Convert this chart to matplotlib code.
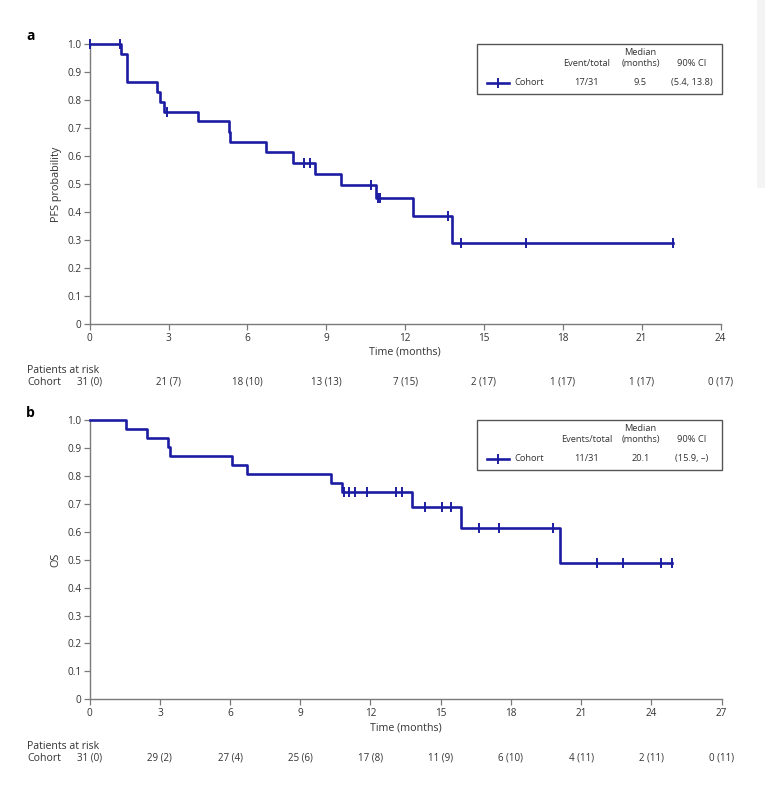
import numpy as np
import matplotlib
matplotlib.use("Agg")
import matplotlib.pyplot as plt
from matplotlib import transforms
from matplotlib.patches import Rectangle
from matplotlib.lines import Line2D

# ---------------- data ----------------
# Panel a: PFS
pfs_step_t = [0, 1.18, 1.41, 2.55, 2.69, 2.81, 4.12, 5.30, 5.35, 6.71, 7.75, 8.59, 9.56, 10.90, 12.30, 13.80]
pfs_step_s = [1.0, 0.967, 0.864, 0.830, 0.795, 0.758, 0.725, 0.688, 0.651, 0.614, 0.577, 0.538, 0.496, 0.451, 0.386, 0.288]
pfs_censor_t = [0.03, 1.16, 2.93, 8.14, 8.39, 10.69, 10.95, 11.05, 13.65, 14.12, 16.6, 22.2]
pfs_end = 22.2
pfs_risk_t = [0, 3, 6, 9, 12, 15, 18, 21, 24]
pfs_risk = ["31 (0)", "21 (7)", "18 (10)", "13 (13)", "7 (15)", "2 (17)", "1 (17)", "1 (17)", "0 (17)"]
pfs_legend = ["Event/total", "17/31", "9.5", "(5.4, 13.8)"]

# Panel b: OS
os_step_t = [0, 1.55, 2.44, 3.36, 3.45, 6.10, 6.71, 10.33, 10.80, 13.78, 15.85, 20.09]
os_step_s = [1.0, 0.968, 0.937, 0.905, 0.871, 0.839, 0.807, 0.776, 0.742, 0.690, 0.614, 0.489]
os_censor_t = [10.87, 11.08, 11.32, 11.84, 13.07, 13.35, 14.35, 15.04, 15.43, 16.62, 17.5, 19.78,
               21.68, 22.79, 24.4, 24.87]
os_end = 24.87
os_risk_t = [0, 3, 6, 9, 12, 15, 18, 21, 24, 27]
os_risk = ["31 (0)", "29 (2)", "27 (4)", "25 (6)", "17 (8)", "11 (9)", "6 (10)", "4 (11)", "2 (11)", "0 (11)"]
os_legend = ["Events/total", "11/31", "20.1", "(15.9, \u2013)"]

y_ticks = [0, 0.1, 0.2, 0.3, 0.4, 0.5, 0.6, 0.7, 0.8, 0.9, 1.0]
y_ticklabels = ["0", "0.1", "0.2", "0.3", "0.4", "0.5", "0.6", "0.7", "0.8", "0.9", "1.0"]

# ---------------- style ----------------
plt.rcParams['font.family'] = ['Open Sans', 'DejaVu Sans']
BLUE = '#1c1ca3'
GRAY = '#7a7a7a'
TXT = '#333333'

W, H = 770, 800
fig = plt.figure(figsize=(W / 100, H / 100), dpi=100)
fig.patch.set_facecolor('white')


def fx(x):
    return x / W


def fy(y):
    return 1 - y / H


# faint screenshot panel edge at right
fig.patches.append(Rectangle((fx(757), fy(188)), fx(8), 188 / H, transform=fig.transFigure,
                             facecolor='#f4f4f4', edgecolor='none', zorder=0))


def panel(box, step_t, step_s, cens_t, end_t, xmax, ylabel, risk_t, risk, legend, letter,
          letter_y, risk_title_y, risk_row_y, leg_box):
    left, top, right, bottom = box
    ax = fig.add_axes([fx(left), fy(bottom), fx(right - left), (bottom - top) / H])
    t = np.array(step_t + [end_t])
    s = np.array(step_s + [step_s[-1]])
    ax.step(t, s, where='post', color=BLUE, lw=1.9, clip_on=False, zorder=3)
    ct = np.array(cens_t)
    idx = np.searchsorted(np.array(step_t), ct, side='right') - 1
    cs = np.array(step_s)[idx]
    ax.plot(ct, cs, ls='none', marker='|', ms=7, mew=1.4, color=BLUE, clip_on=False, zorder=4)

    ax.set_xlim(0, xmax)
    ax.set_ylim(0, 1.0)
    ax.set_xticks(np.arange(0, xmax + 1, 3))
    ax.set_yticks(y_ticks)
    ax.set_yticklabels(y_ticklabels)
    for sp in ['top', 'right']:
        ax.spines[sp].set_visible(False)
    for sp in ['left', 'bottom']:
        ax.spines[sp].set_color(GRAY)
        ax.spines[sp].set_linewidth(1.0)
    ax.tick_params(axis='both', colors=GRAY, labelcolor=TXT, labelsize=7.2, length=4, width=0.9)
    ax.tick_params(axis='x', pad=2.5)
    ax.tick_params(axis='y', pad=2)
    ax.set_xlabel('Time (months)', fontsize=7.7, color=TXT, labelpad=2)
    ax.set_ylabel(ylabel, fontsize=7.8, color=TXT, labelpad=4)

    # panel letter
    fig.text(fx(26), fy(letter_y), letter, fontsize=10, fontweight='bold', color='black',
             va='center', ha='left')

    # patients at risk
    fig.text(fx(27), fy(risk_title_y), 'Patients at risk', fontsize=7.6, color=TXT, va='center', ha='left')
    fig.text(fx(27), fy(risk_row_y), 'Cohort', fontsize=7.6, color=TXT, va='center', ha='left')
    trans = transforms.blended_transform_factory(ax.transData, fig.transFigure)
    for tt, lab in zip(risk_t, risk):
        ax.text(tt, fy(risk_row_y), lab, transform=trans, fontsize=7, color=TXT,
                ha='center', va='center', clip_on=False)

    # legend box
    bx0, by0, bx1, by1 = leg_box
    fig.patches.append(Rectangle((fx(bx0), fy(by1)), fx(bx1 - bx0), (by1 - by0) / H,
                                 transform=fig.transFigure, facecolor='white',
                                 edgecolor='#555555', lw=1.0, zorder=5))
    row_y = by0 + 39
    hdr_y = by0 + 20
    med_y = by0 + 9
    fig.add_artist(Line2D([fx(bx0 + 9), fx(bx0 + 31)], [fy(row_y), fy(row_y)], color=BLUE, lw=1.9,
                          transform=fig.transFigure, zorder=6))
    fig.add_artist(Line2D([fx(bx0 + 20)], [fy(row_y)], color=BLUE, marker='|', ms=7, mew=1.4,
                          transform=fig.transFigure, zorder=6))
    fs = 6.7
    fig.text(fx(bx0 + 37), fy(row_y), 'Cohort', fontsize=fs, color=TXT, va='center', ha='left', zorder=6)
    cols = [bx0 + 109, bx0 + 163, bx0 + 214]
    fig.text(fx(cols[0]), fy(hdr_y), legend[0], fontsize=fs, color=TXT, va='center', ha='center', zorder=6)
    fig.text(fx(cols[1]), fy(med_y), 'Median', fontsize=fs, color=TXT, va='center', ha='center', zorder=6)
    fig.text(fx(cols[1]), fy(hdr_y), '(months)', fontsize=fs, color=TXT, va='center', ha='center', zorder=6)
    fig.text(fx(cols[2]), fy(hdr_y), '90% CI', fontsize=fs, color=TXT, va='center', ha='center', zorder=6)
    for c, v in zip(cols, legend[1:]):
        fig.text(fx(c), fy(row_y), v, fontsize=fs, color=TXT, va='center', ha='center', zorder=6)
    return ax


panel((89.7, 44.3, 720.5, 324.0), pfs_step_t, pfs_step_s, pfs_censor_t, pfs_end, 24,
      'PFS probability', pfs_risk_t, pfs_risk, pfs_legend, 'a', 36, 370.5, 382.5,
      (477.5, 43.5, 721.5, 93.5))
panel((89.7, 420.0, 721.5, 699.3), os_step_t, os_step_s, os_censor_t, os_end, 27,
      'OS', os_risk_t, os_risk, os_legend, 'b', 413, 746.5, 758.3,
      (477.5, 419.5, 721.5, 469.5))

fig.savefig('out.png', dpi=100, facecolor='white')
